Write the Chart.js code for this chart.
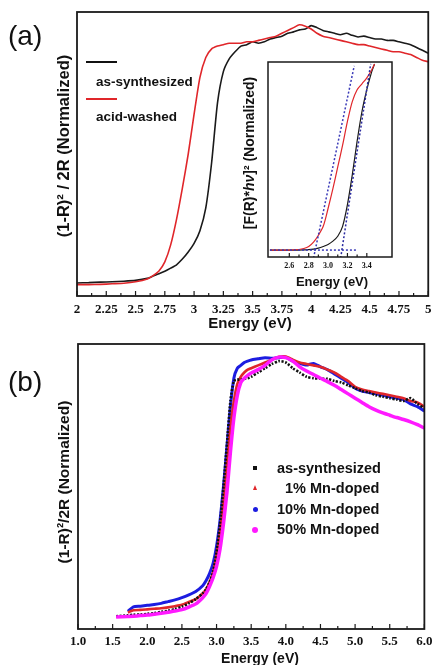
<!DOCTYPE html>
<html><head><meta charset="utf-8">
<script src="https://cdn.jsdelivr.net/npm/chart.js@4.4.1/dist/chart.umd.min.js"></script>
<style>
html,body{margin:0;padding:0;background:#fff;}
#wrap{position:relative;width:439px;height:665px;background:#fff;overflow:hidden;font-family:"Liberation Sans",Arial,sans-serif;color:#111;}
canvas{position:absolute;}
.t{position:absolute;white-space:nowrap;}
.c{position:absolute;white-space:nowrap;transform:translate(-50%,-50%);font-weight:bold;}
.rot{position:absolute;white-space:nowrap;transform:translate(-50%,-50%) rotate(-90deg);font-weight:bold;}
.lg{position:absolute;}
</style></head><body>
<div id="wrap">
<canvas id="cA" width="439" height="324" style="left:0;top:0"></canvas>
<canvas id="cI" width="175" height="225" style="left:230px;top:50px"></canvas>
<canvas id="cB" width="439" height="325" style="left:0;top:330px"></canvas>

<div class="t" style="left:8px;top:19px;font-size:28px;line-height:34px;">(a)</div>
<div class="t" style="left:8px;top:365px;font-size:28px;line-height:34px;">(b)</div>
<div class="rot" style="left:63px;top:146px;font-size:16.5px;">(1-R)² / 2R (Normalized)</div>
<div class="rot" style="left:64px;top:482px;font-size:15.5px;">(1-R)²/2R (Normalized)</div>
<div class="rot" style="left:249px;top:153px;font-size:14px;">[F(R)*<i>hν</i>]² (Normalized)</div>
<div class="c" style="left:250px;top:322px;font-size:15px;">Energy (eV)</div>
<div class="c" style="left:260px;top:658px;font-size:14px;">Energy (eV)</div>
<div class="c" style="left:332px;top:281px;font-size:13px;">Energy (eV)</div>

<div class="lg" style="left:86px;top:61px;width:31px;height:2px;background:#111"></div>
<div class="t" style="left:96px;top:73px;font-size:13.5px;line-height:18px;font-weight:bold;">as-synthesized</div>
<div class="lg" style="left:86px;top:98px;width:31px;height:2px;background:#e0262a"></div>
<div class="t" style="left:96px;top:108px;font-size:13.5px;line-height:18px;font-weight:bold;">acid-washed</div>

<div class="lg" style="left:253px;top:466px;width:4px;height:4px;background:#111"></div>
<div class="lg" style="left:253px;top:485px;width:0;height:0;border-left:2.5px solid transparent;border-right:2.5px solid transparent;border-bottom:5px solid #e0262a"></div>
<div class="lg" style="left:253px;top:507px;width:5px;height:5px;border-radius:50%;background:#1c1ce0"></div>
<div class="lg" style="left:252px;top:527px;width:6px;height:6px;border-radius:50%;background:#ff1aff"></div>
<div class="t" style="left:277px;top:459px;font-size:14.5px;line-height:18px;font-weight:bold;">as-synthesized</div>
<div class="t" style="left:277px;top:479px;font-size:14.5px;line-height:18px;font-weight:bold;">&nbsp;&nbsp;1% Mn-doped</div>
<div class="t" style="left:277px;top:500px;font-size:14.5px;line-height:18px;font-weight:bold;">10% Mn-doped</div>
<div class="t" style="left:277px;top:520px;font-size:14.5px;line-height:18px;font-weight:bold;">50% Mn-doped</div>
</div>
<script>
// ---------- Panel (a) data ----------
const energyA = [2.00,2.10,2.20,2.30,2.40,2.50,2.60,2.65,2.70,2.75,2.80,2.85,2.90,2.95,3.00,3.05,3.10,3.15,3.20,3.25,3.30,3.35,3.40,3.45,3.50,3.55,3.60,3.65,3.70,3.75,3.80,3.85,3.90,3.95,4.00,4.05,4.10,4.15,4.20,4.25,4.30,4.35,4.40,4.45,4.50,4.55,4.60,4.65,4.70,4.75,4.80,4.85,4.90,4.95,5.00];
const asSynthA = [0.046,0.047,0.049,0.050,0.052,0.055,0.062,0.070,0.078,0.087,0.098,0.110,0.130,0.155,0.185,0.230,0.310,0.470,0.680,0.790,0.835,0.860,0.880,0.885,0.895,0.890,0.895,0.905,0.910,0.915,0.925,0.930,0.937,0.940,0.952,0.945,0.935,0.930,0.925,0.920,0.925,0.918,0.912,0.915,0.910,0.905,0.905,0.900,0.900,0.895,0.890,0.885,0.875,0.865,0.855];
const acidWashedA = [0.040,0.040,0.041,0.043,0.045,0.050,0.060,0.072,0.088,0.120,0.180,0.270,0.380,0.500,0.640,0.770,0.840,0.870,0.880,0.885,0.890,0.890,0.890,0.895,0.895,0.900,0.905,0.910,0.915,0.925,0.935,0.945,0.955,0.950,0.940,0.925,0.915,0.910,0.905,0.900,0.895,0.890,0.885,0.885,0.880,0.875,0.870,0.865,0.860,0.860,0.855,0.850,0.840,0.830,0.825];
const ticksA = [2,2.25,2.5,2.75,3,3.25,3.5,3.75,4,4.25,4.5,4.75,5];

// ---------- Inset data ----------
const energyInset = [2.40,2.50,2.60,2.70,2.75,2.80,2.85,2.90,2.95,3.00,3.05,3.10,3.15,3.20,3.25,3.30,3.35,3.40,3.45,3.48];
const acidWashedInset = [0.050,0.050,0.050,0.053,0.058,0.068,0.090,0.125,0.170,0.260,0.360,0.470,0.580,0.700,0.800,0.860,0.890,0.920,0.960,0.990];
const asSynthInset = [0.050,0.050,0.050,0.050,0.051,0.052,0.055,0.060,0.068,0.078,0.095,0.120,0.170,0.280,0.430,0.600,0.750,0.860,0.950,0.990];
const fitAcidX = [2.85,3.27], fitAcidY = [0.01,0.98];
const fitAsX = [3.13,3.44], fitAsY = [0.01,0.99];
const baseX = [2.40,3.30], baseY = [0.05,0.05];
const ticksInset = [2.6,2.8,3.0,3.2,3.4];

// ---------- Panel (b) data ----------
const energyB = [1.55,1.72,1.80,1.90,2.00,2.10,2.20,2.30,2.40,2.50,2.60,2.70,2.80,2.85,2.90,2.95,3.00,3.05,3.10,3.15,3.20,3.25,3.30,3.35,3.40,3.45,3.50,3.60,3.70,3.80,3.90,4.00,4.10,4.20,4.30,4.40,4.50,4.60,4.70,4.80,4.90,5.00,5.10,5.20,5.30,5.40,5.50,5.60,5.70,5.80,5.90,6.00];
const asSynthB = [0.045,0.048,0.050,0.051,0.053,0.056,0.060,0.064,0.070,0.078,0.090,0.105,0.125,0.140,0.165,0.200,0.270,0.370,0.500,0.650,0.800,0.870,0.875,0.875,0.878,0.880,0.885,0.900,0.915,0.930,0.940,0.935,0.915,0.900,0.885,0.880,0.878,0.878,0.870,0.865,0.855,0.845,0.835,0.830,0.820,0.815,0.810,0.805,0.800,0.810,0.790,0.775];
const mn1B = [null,0.058,0.066,0.067,0.069,0.071,0.073,0.076,0.080,0.085,0.095,0.105,0.125,0.140,0.165,0.200,0.260,0.340,0.450,0.580,0.710,0.800,0.860,0.885,0.900,0.910,0.915,0.925,0.935,0.945,0.955,0.956,0.945,0.935,0.930,0.925,0.920,0.910,0.900,0.885,0.870,0.850,0.840,0.835,0.830,0.825,0.820,0.815,0.810,0.800,0.795,0.780];
const mn10B = [null,0.062,0.078,0.080,0.083,0.086,0.090,0.096,0.102,0.110,0.120,0.132,0.152,0.170,0.195,0.230,0.290,0.380,0.500,0.640,0.780,0.880,0.915,0.925,0.935,0.940,0.944,0.948,0.952,0.950,0.952,0.953,0.940,0.932,0.926,0.932,0.920,0.910,0.895,0.880,0.865,0.845,0.835,0.830,0.825,0.820,0.815,0.810,0.805,0.790,0.780,0.765];
const mn50B = [0.042,0.044,0.045,0.047,0.049,0.052,0.055,0.059,0.063,0.068,0.077,0.088,0.110,0.125,0.150,0.180,0.220,0.280,0.370,0.480,0.620,0.740,0.820,0.865,0.880,0.890,0.898,0.910,0.925,0.945,0.954,0.952,0.940,0.920,0.905,0.893,0.880,0.868,0.855,0.840,0.825,0.810,0.795,0.780,0.768,0.758,0.750,0.742,0.735,0.727,0.717,0.705];
const ticksB = [1.0,1.5,2.0,2.5,3.0,3.5,4.0,4.5,5.0,5.5,6.0];

const xy = (xs, ys) => xs.map((x,i)=>({x:x, y:ys[i]})).filter(p=>p.y!==null && p.y!==undefined);

// frame + inward ticks plugin
const framePlugin = {
  id:'frame',
  afterDraw(chart, args, o){
    const ctx = chart.ctx, a = chart.chartArea, sx = chart.scales.x;
    ctx.save();
    ctx.strokeStyle = '#1a1a1a';
    ctx.lineWidth = o.lw;
    ctx.strokeRect(a.left, a.top, a.right-a.left, a.bottom-a.top);
    ctx.lineWidth = 1.2;
    const major = o.ticks;
    const drawT = (v,len)=>{
      const p = sx.getPixelForValue(v);
      if (p < a.left-0.5 || p > a.right+0.5) return;
      ctx.beginPath(); ctx.moveTo(p, a.bottom); ctx.lineTo(p, a.bottom-len); ctx.stroke();
    };
    major.forEach(v=>drawT(v, o.majorLen));
    for (let i=0;i<major.length-1;i++){
      const step = (major[i+1]-major[i])/o.sub;
      for (let k=1;k<o.sub;k++) drawT(major[i]+k*step, o.minorLen);
    }
    ctx.restore();
  }
};

const serifTick = (size)=>({family:'"Liberation Serif","Times New Roman",serif', weight:'bold', size:size, lineHeight:1});

function xScale(min,max,ticks,fmt,tsize,tpad){
  return {
    type:'linear', min:min, max:max,
    grid:{display:false, drawTicks:false}, border:{display:false},
    afterBuildTicks: s => { s.ticks = ticks.map(v=>({value:v})); },
    ticks:{font:serifTick(tsize), color:'#111', padding:tpad, maxRotation:0, autoSkip:false, callback:fmt},
    title:{display:false}
  };
}

// Panel (a)
new Chart(document.getElementById('cA'), {
  type:'line',
  data:{datasets:[
    {label:'acid-washed', data:xy(energyA, acidWashedA), borderColor:'#e0262a', borderWidth:1.6, pointRadius:0, tension:0.2},
    {label:'as-synthesized', data:xy(energyA, asSynthA), borderColor:'#1a1a1a', borderWidth:1.6, pointRadius:0, tension:0.2}
  ]},
  options:{
    responsive:false, animation:false, devicePixelRatio:1,
    layout:{padding:{left:77, right:10, top:12, bottom:0}},
    plugins:{legend:{display:false}, tooltip:{enabled:false},
      frame:{lw:1.8, ticks:ticksA, sub:2, majorLen:5, minorLen:3}},
    scales:{
      x: xScale(2,5,ticksA, v=>String(+v), 13, 7.5),
      y: {display:false, min:0, max:1}
    }
  },
  plugins:[framePlugin]
});

// Inset
new Chart(document.getElementById('cI'), {
  type:'line',
  data:{datasets:[
    {label:'fit acid', data:xy(fitAcidX, fitAcidY), borderColor:'#3a3ab8', borderWidth:1.5, borderDash:[2,2], pointRadius:0},
    {label:'fit as', data:xy(fitAsX, fitAsY), borderColor:'#2a2aa0', borderWidth:1.5, borderDash:[2,2], pointRadius:0},
    {label:'base', data:xy(baseX, baseY), borderColor:'#3a3ab8', borderWidth:1.5, borderDash:[2,2], pointRadius:0},
    {label:'acid-washed', data:xy(energyInset, acidWashedInset), borderColor:'#e0262a', borderWidth:1.2, pointRadius:0, tension:0.3},
    {label:'as-synthesized', data:xy(energyInset, asSynthInset), borderColor:'#1a1a1a', borderWidth:1.2, pointRadius:0, tension:0.3}
  ]},
  options:{
    responsive:false, animation:false, devicePixelRatio:1,
    layout:{padding:{left:38, right:13, top:12, bottom:0}},
    plugins:{legend:{display:false}, tooltip:{enabled:false},
      frame:{lw:1.5, ticks:ticksInset, sub:2, majorLen:4, minorLen:2.5}},
    scales:{
      x: xScale(2.38,3.66,ticksInset, v=>(+v).toFixed(1), 8, 5),
      y: {display:false, min:0.015, max:1}
    }
  },
  plugins:[framePlugin]
});

// Panel (b)
new Chart(document.getElementById('cB'), {
  type:'line',
  data:{datasets:[
    {label:'50% Mn-doped', data:xy(energyB, mn50B), borderColor:'#ff1aff', borderWidth:3.5, pointRadius:0, tension:0.2},
    {label:'as-synthesized', data:xy(energyB, asSynthB), borderColor:'#111', borderWidth:2.6, borderDash:[2,1.5], pointRadius:0, tension:0.2},
    {label:'1% Mn-doped', data:xy(energyB, mn1B), borderColor:'#e0262a', borderWidth:2.6, pointRadius:0, tension:0.2},
    {label:'10% Mn-doped', data:xy(energyB, mn10B), borderColor:'#1c1ce0', borderWidth:3, pointRadius:0, tension:0.2}
  ]},
  options:{
    responsive:false, animation:false, devicePixelRatio:1,
    layout:{padding:{left:78, right:9, top:14, bottom:0}},
    plugins:{legend:{display:false}, tooltip:{enabled:false},
      frame:{lw:1.8, ticks:ticksB, sub:2, majorLen:5, minorLen:3}},
    scales:{
      x: xScale(1,6,ticksB, v=>(+v).toFixed(1), 13, 6.5),
      y: {display:false, min:0, max:1}
    }
  },
  plugins:[framePlugin]
});
</script>
</body></html>
